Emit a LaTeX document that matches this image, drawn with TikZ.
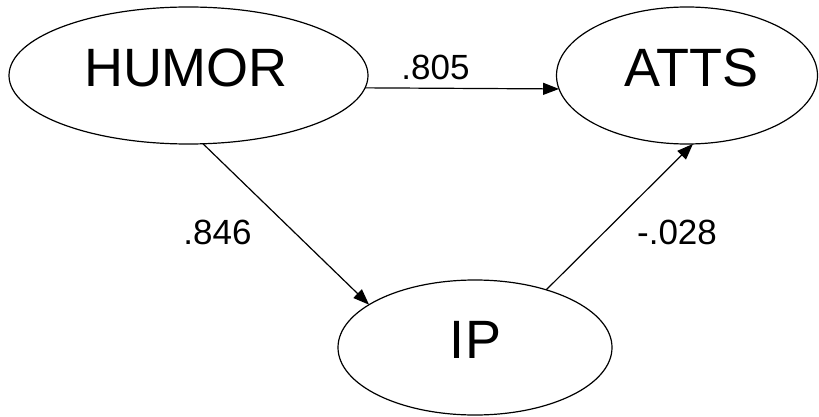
\documentclass[tikz,border=0pt]{standalone}
\usepackage{fontspec}
\setmainfont{Liberation Sans}
\usetikzlibrary{shapes.geometric,arrows.meta}
\begin{document}
\begin{tikzpicture}[x=1pt,y=-1pt,
  latent/.style={draw,ellipse,line width=1.2pt,inner sep=0pt,outer sep=0pt},
  varname/.style={anchor=base,font=\fontsize{54}{60}\selectfont,inner sep=0pt},
  coef/.style={anchor=base,font=\fontsize{35}{40}\selectfont,inner sep=0pt},
  pathline/.style={line width=1.2pt,-{Triangle[length=16pt,width=12pt]}}]
\useasboundingbox (0,0) rectangle (819,417);
\node[latent,minimum width=359pt,minimum height=137pt] (humor) at (188.5,75.5) {};
\node[latent,minimum width=261pt,minimum height=137pt] (atts) at (687,75.5) {};
\node[latent,minimum width=274pt,minimum height=135pt] (ip) at (475,347.5) {};
\node[varname] (humort) at (186,87) {HUMOR};
\node[varname] (attst) at (691.5,87) {ATTS};
\node[varname] (ipt) at (475.5,358) {IP};
\draw[pathline] (humor.-4.73) -- (atts.186.5);
\draw[pathline] (humor.-78) -- (ip.158.9);
\draw[pathline] (ip.39.6) -- (atts.-85.9);
\node[coef] (c1) at (435.5,80) {.805};
\node[coef] (c2) at (217.5,244) {.846};
\node[coef] (c3) at (677,244) {-.028};
\end{tikzpicture}
\end{document}
